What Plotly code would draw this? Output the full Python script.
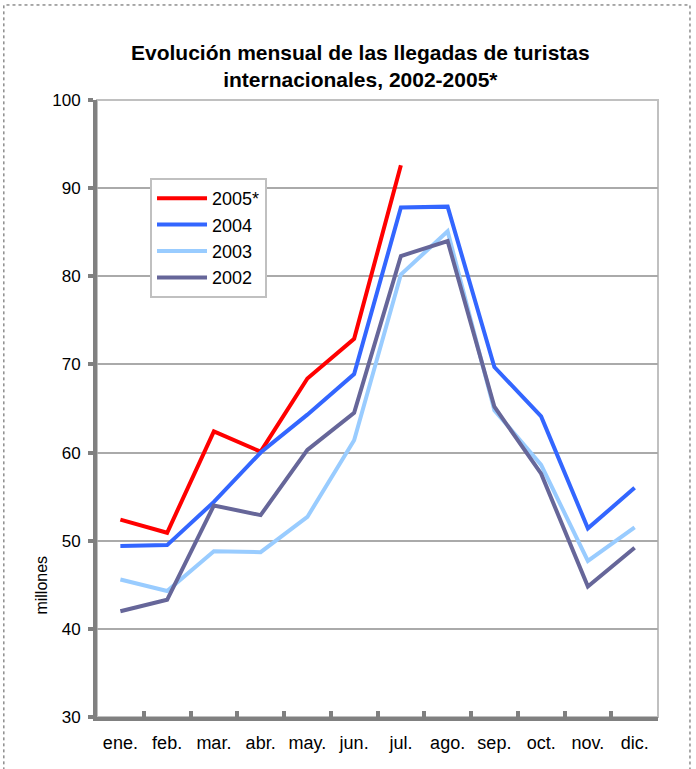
import plotly.graph_objects as go

months = ["ene.", "feb.", "mar.", "abr.", "may.", "jun.", "jul.", "ago.", "sep.", "oct.", "nov.", "dic."]
s2005 = [52.4, 50.9, 62.4, 60.1, 68.4, 72.9, 92.6]
s2004 = [49.4, 49.5, 54.4, 60.0, 64.3, 68.9, 87.8, 87.9, 69.7, 64.1, 51.4, 56.0]
s2003 = [45.6, 44.3, 48.8, 48.7, 52.7, 61.4, 80.2, 85.1, 64.8, 58.6, 47.7, 51.5]
s2002 = [42.0, 43.3, 54.0, 52.9, 60.3, 64.5, 82.3, 84.0, 65.2, 57.6, 44.8, 49.2]

series = [
    ("2005*", s2005, "#FF0000"),
    ("2004", s2004, "#3366FF"),
    ("2003", s2003, "#99CCFF"),
    ("2002", s2002, "#666699"),
]

font_txt = "Liberation Sans, Arial, sans-serif"

fig = go.Figure()
for name, vals, col in series:
    fig.add_trace(go.Scatter(
        x=months[:len(vals)], y=vals, name=name, mode="lines",
        line=dict(color=col, width=4),
    ))

fig.update_layout(
    width=696, height=769,
    margin=dict(l=97, r=38, t=100, b=52),
    paper_bgcolor="white", plot_bgcolor="white",
    showlegend=True,
    legend=dict(
        x=0.0945, y=0.8736, xanchor="left", yanchor="top",
        bgcolor="white", bordercolor="#C0C0C0", borderwidth=2,
        font=dict(family=font_txt, size=18, color="#000000"),
        tracegroupgap=0, itemwidth=50,
    ),
    annotations=[
        dict(text="<b>Evolución mensual de las llegadas de turistas<br>internacionales, 2002-2005*</b>",
             xref="paper", yref="paper", x=0.469, y=1.055, xanchor="center", yanchor="middle",
             showarrow=False, font=dict(family=font_txt, size=21, color="#000000"),
             align="center"),
        dict(text="millones", xref="paper", yref="paper", x=-0.098, y=0.213,
             xanchor="center", yanchor="middle", textangle=-90, showarrow=False,
             font=dict(family=font_txt, size=16, color="#000000")),
    ],
    shapes=[
        dict(type="rect", xref="paper", yref="paper", x0=0, x1=1, y0=0, y1=1,
             line=dict(color="#C0C0C0", width=2), layer="below"),
        dict(type="rect", xref="paper", yref="paper", x0=-0.166, x1=1.057, y0=-0.2, y1=1.154,
             line=dict(color="#555555", width=1, dash="dot")),
    ],
)

fig.update_xaxes(
    type="category", categoryorder="array", categoryarray=months,
    range=[-0.5, 11.5], tickson="boundaries", tickangle=0, automargin=False,
    showline=True, linecolor="#808080", linewidth=4,
    ticks="inside", ticklen=6, tickwidth=4, tickcolor="#808080",
    ticklabelstandoff=6,
    showgrid=False, zeroline=False,
    tickfont=dict(family=font_txt, size=18, color="#000000"),
)
fig.update_yaxes(
    range=[30, 100], dtick=10, automargin=False,
    showline=True, linecolor="#808080", linewidth=4,
    ticks="outside", ticklen=5, tickwidth=4, tickcolor="#808080",
    ticklabelstandoff=4,
    showgrid=True, gridcolor="#AAAAAA", gridwidth=1.5, zeroline=False,
    tickfont=dict(family=font_txt, size=17, color="#000000"),
)

fig.write_html("out.html", config={"displayModeBar": False},
               post_script="document.body.style.margin='0';")
